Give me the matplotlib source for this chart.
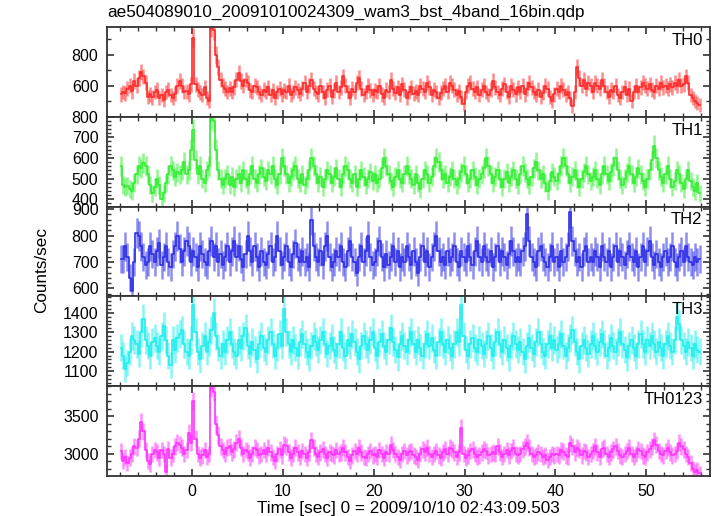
import numpy as np
import matplotlib
matplotlib.use('Agg')
import matplotlib.pyplot as plt
from matplotlib.ticker import MultipleLocator

plt.rcParams['font.family'] = ['Liberation Sans', 'DejaVu Sans']

title = 'ae504089010_20091010024309_wam3_bst_4band_16bin.qdp'
xlabel = 'Time [sec] 0 = 2009/10/10 02:43:09.503'
ylabel = 'Counts/sec'

# bins of 0.25 s (16 x 1/64 s), first bin centre at -7.875 s
bin_sec = 0.25
t_first = -7.875

th0 = [
    545, 560, 552, 580, 600, 565, 630, 600, 650, 690, 660, 620, 530, 545, 525, 560,
    575, 520, 540, 510, 560, 575, 540, 520, 550, 600, 630, 600, 560, 565, 545, 610,
    910, 610, 575, 555, 540, 590, 520, 505, 975, 960, 800, 720, 640, 600, 580, 560,
    585, 560, 590, 640, 680, 630, 600, 640, 620, 570, 560, 600, 590, 560, 540, 575,
    560, 590, 540, 570, 520, 560, 580, 545, 570, 560, 600, 540, 560, 590, 570, 550,
    580, 620, 560, 600, 640, 580, 560, 545, 600, 560, 520, 575, 600, 530, 570, 620,
    560, 590, 660, 600, 560, 520, 580, 560, 620, 650, 580, 540, 560, 600, 570, 540,
    570, 560, 600, 545, 520, 575, 560, 640, 580, 555, 590, 540, 610, 575, 520, 560,
    590, 550, 565, 540, 600, 580, 560, 620, 590, 540, 575, 560, 520, 555, 580, 600,
    560, 620, 600, 575, 540, 565, 530, 480, 560, 600, 620, 580, 560, 590, 540, 575,
    600, 560, 540, 575, 630, 590, 560, 540, 580, 610, 560, 530, 600, 575, 545, 590,
    560, 600, 545, 580, 620, 590, 560, 540, 575, 530, 555, 600, 580, 530, 500, 545,
    580, 560, 600, 575, 540, 560, 520, 470, 560, 720, 650, 600, 640, 580, 620, 600,
    560, 620, 600, 580, 640, 600, 560, 530, 575, 560, 600, 540, 520, 560, 590, 540,
    580, 500, 560, 600, 560, 590, 620, 600, 580, 610, 575, 560, 600, 580, 620, 590,
    600, 580, 610, 590, 620, 600, 640, 600, 610, 660, 620, 540, 520, 500, 490, 475,
]

th1 = [
    560, 470, 460, 465, 450, 440, 480, 520, 560, 550, 575, 560, 520, 470, 430, 460,
    500, 470, 400, 430, 480, 520, 560, 540, 510, 530, 520, 540, 580, 520, 540, 640,
    735, 590, 520, 560, 500, 480, 540, 560, 790, 780, 640, 540, 500, 470, 500, 520,
    470, 510, 460, 500, 520, 480, 540, 500, 470, 520, 560, 500, 480, 520, 550, 510,
    490, 540, 520, 560, 500, 470, 520, 600, 560, 520, 480, 510, 540, 560, 500, 480,
    520, 470, 500, 540, 600, 560, 520, 480, 510, 460, 500, 540, 520, 480, 510, 550,
    500, 460, 520, 560, 540, 500, 480, 520, 460, 500, 540, 510, 470, 500, 530, 490,
    520, 480, 500, 550, 600, 560, 520, 490, 460, 510, 540, 500, 480, 520, 560, 520,
    500, 470, 520, 480, 450, 500, 540, 520, 480, 510, 560, 600, 580, 540, 500, 520,
    480, 510, 540, 500, 470, 500, 530, 560, 520, 480, 500, 540, 510, 470, 500, 520,
    550, 600, 560, 520, 480, 510, 540, 500, 460, 500, 530, 480, 510, 540, 500, 470,
    520, 560, 530, 500, 470, 510, 550, 580, 540, 500, 520, 480, 440, 490, 530, 510,
    490, 520, 560, 600, 560, 520, 480, 510, 540, 500, 460, 500, 530, 560, 520, 490,
    510, 540, 500, 470, 520, 560, 520, 490, 530, 560, 600, 540, 500, 470, 500, 530,
    560, 520, 480, 510, 550, 520, 490, 460, 500, 540, 590, 660, 600, 540, 510, 480,
    520, 560, 500, 460, 490, 540, 520, 480, 450, 500, 540, 490, 460, 440, 480, 430,
]

th2 = [
    710, 710, 760, 720, 640, 590, 700, 810, 800, 760, 720, 690, 700, 760, 730, 700,
    740, 770, 690, 720, 760, 700, 680, 730, 760, 800, 750, 700, 740, 780, 760, 700,
    740, 720, 680, 760, 730, 700, 690, 740, 780, 720, 760, 700, 730, 690, 720, 760,
    700, 740, 780, 720, 760, 710, 680, 730, 800, 740, 700, 760, 720, 680, 740, 700,
    690, 730, 760, 700, 720, 800, 740, 690, 720, 760, 700, 680, 730, 770, 720, 700,
    740, 700, 720, 680, 860, 760, 720, 700, 740, 690, 760, 800, 720, 680, 700, 740,
    720, 760, 700, 680, 740, 780, 720, 700, 660, 720, 760, 700, 740, 800, 720, 690,
    700, 740, 780, 720, 680, 730, 690, 720, 760, 700, 740, 680, 720, 700, 760, 720,
    690, 740, 700, 660, 720, 760, 700, 740, 680, 720, 760, 800, 740, 700, 720, 690,
    740, 700, 720, 760, 700, 680, 740, 720, 700, 760, 720, 690, 740, 780, 720, 700,
    760, 720, 700, 740, 680, 720, 760, 700, 740, 720, 690, 730, 780, 740, 700, 720,
    700, 740, 760, 880, 780, 720, 700, 680, 740, 760, 720, 700, 680, 720, 760, 700,
    720, 680, 740, 700, 720, 760, 890, 780, 740, 700, 720, 680, 740, 760, 700, 720,
    700, 740, 720, 680, 760, 720, 700, 740, 680, 720, 760, 700, 740, 720, 690, 730,
    760, 720, 700, 740, 680, 720, 760, 700, 740, 780, 720, 690, 730, 700, 680, 720,
    740, 700, 720, 760, 700, 680, 720, 740, 700, 760, 720, 700, 690, 720, 700, 710,
]

th3 = [
    1220, 1180, 1110, 1140, 1200, 1280, 1260, 1240, 1190, 1300, 1370, 1260, 1230, 1180, 1250, 1270,
    1230, 1200, 1280, 1330, 1260, 1180, 1130, 1260, 1210, 1270, 1290, 1310, 1240, 1200, 1180, 1260,
    1440, 1300, 1200, 1160, 1230, 1280, 1200, 1250, 1310, 1400, 1280, 1220, 1180, 1240, 1200, 1260,
    1300, 1240, 1200, 1180, 1260, 1220, 1280, 1320, 1230, 1190, 1250, 1210, 1160, 1240, 1280, 1220,
    1200, 1260, 1300, 1240, 1180, 1220, 1290, 1230, 1420, 1300, 1240, 1200, 1260, 1220, 1180, 1250,
    1290, 1240, 1200, 1170, 1230, 1280, 1250, 1210, 1260, 1300, 1240, 1190, 1230, 1270, 1210, 1180,
    1240, 1300, 1220, 1180, 1260, 1230, 1290, 1250, 1200, 1160, 1230, 1280, 1240, 1210, 1260, 1300,
    1220, 1180, 1250, 1290, 1230, 1200, 1260, 1320, 1250, 1210, 1170, 1240, 1280, 1230, 1200, 1260,
    1300, 1240, 1200, 1260, 1220, 1180, 1240, 1290, 1230, 1270, 1210, 1180, 1250, 1300, 1240, 1200,
    1260, 1220, 1180, 1240, 1300, 1250, 1440, 1280, 1210, 1180, 1240, 1270, 1220, 1200, 1260, 1230,
    1190, 1240, 1280, 1220, 1180, 1250, 1300, 1240, 1200, 1260, 1220, 1170, 1230, 1280, 1240, 1210,
    1250, 1200, 1160, 1230, 1270, 1220, 1190, 1250, 1300, 1240, 1200, 1180, 1240, 1280, 1220, 1260,
    1210, 1240, 1290, 1230, 1180, 1220, 1270, 1310, 1250, 1200, 1160, 1230, 1260, 1220, 1190, 1240,
    1280, 1230, 1200, 1250, 1290, 1240, 1180, 1220, 1270, 1230, 1200, 1250, 1300, 1240, 1210, 1170,
    1230, 1260, 1220, 1180, 1240, 1290, 1240, 1200, 1260, 1230, 1280, 1240, 1200, 1250, 1220, 1180,
    1240, 1280, 1230, 1200, 1260, 1380, 1340, 1260, 1230, 1200, 1250, 1220, 1180, 1240, 1210, 1200,
]

th0123 = [
    3040, 2900, 2960, 2880, 2950, 3000, 3100, 3080, 3200, 3420, 3300, 3050, 2900, 2860, 3000, 3050,
    3020, 2950, 3050, 3000, 2760, 3060, 2950, 3000, 3100, 3150, 3120, 3080, 3000, 3050, 3280, 3150,
    3700, 3200, 3000, 2950, 2980, 3050, 2960, 3000, 3880, 3820, 3400, 3250, 3100, 3050, 3000, 3080,
    3100, 3020, 3060, 3150, 3200, 3080, 3000, 3050, 3020, 2950, 3000, 3080, 3050, 2980, 3000, 3050,
    3000, 3080, 3020, 2960, 2900, 3000, 3060, 2980, 3120, 3100, 3020, 2950, 3000, 3080, 3020, 2960,
    3040, 3000, 2950, 3020, 3180, 3080, 3000, 2960, 3020, 3060, 3000, 2950, 3020, 3000, 2980, 3050,
    3000, 3020, 3080, 3020, 2960, 2900, 2980, 3040, 3000, 3080, 3020, 2960, 2940, 3000, 3040, 2980,
    3000, 2960, 3050, 3000, 2950, 3020, 3000, 3120, 3050, 3000, 2960, 2920, 3000, 3040, 2980, 3020,
    3040, 2980, 2960, 2920, 3000, 3060, 3020, 3080, 3000, 2960, 3000, 3040, 2980, 2950, 3020, 3060,
    3000, 3080, 3060, 3020, 2960, 3020, 3350, 3000, 2950, 2980, 3040, 3060, 3000, 2960, 2980, 3020,
    3060, 3040, 2980, 3000, 3020, 3000, 3100, 3020, 2960, 3000, 3050, 2980, 3040, 3080, 3000, 2980,
    3000, 3060, 3100, 3150, 3080, 3000, 2960, 2980, 3020, 3000, 2960, 2980, 2920, 2960, 3000, 2980,
    3000, 2980, 3050, 3030, 2980, 2960, 3140, 3100, 3020, 3080, 3050, 2980, 3040, 3020, 2960, 3000,
    3040, 3100, 3020, 2960, 3060, 3080, 3000, 2960, 3020, 3060, 3100, 3040, 2980, 2960, 3000, 3040,
    3080, 3000, 2960, 3000, 3060, 3040, 2980, 2960, 3020, 3060, 3100, 3180, 3120, 3040, 3000, 2980,
    3040, 3080, 3020, 2980, 3000, 3040, 3150, 3100, 3060, 3000, 2960, 2880, 2800, 2760, 2780, 2740,
]

names = ['TH0', 'TH1', 'TH2', 'TH3', 'TH0123']
series = [th0, th1, th2, th3, th0123]
colors = ['#ff2a2a', '#33ee33', '#2e2ee8', '#22eeee', '#ff33ff']
ylims = [(401, 980), (365, 800), (570, 910), (1022, 1485), (2705, 3900)]
major = [200, 100, 100, 100, 500]
minor = [100, 20, 20, 20, 100]

fig, axes = plt.subplots(5, 1, sharex=True, figsize=(7.17, 5.16), dpi=100)
fig.subplots_adjust(left=0.149, right=0.990, top=0.948, bottom=0.0775, hspace=0)

for ax, name, vals, col, yl, mj, mn in zip(axes, names, series, colors, ylims, major, minor):
    v = np.array(vals, dtype=float)
    t = t_first + bin_sec * np.arange(len(v))
    err = np.sqrt(v / bin_sec)
    ax.errorbar(t, v, yerr=err, fmt='none', ecolor=col, elinewidth=1.8, alpha=0.55)
    ax.step(t, v, where='mid', color=col, lw=1.2)
    ax.set_ylim(yl)
    ax.yaxis.set_major_locator(MultipleLocator(mj))
    ax.yaxis.set_minor_locator(MultipleLocator(mn))
    ax.xaxis.set_major_locator(MultipleLocator(10))
    ax.xaxis.set_minor_locator(MultipleLocator(2))
    ax.tick_params(which='both', direction='in', top=True, right=True, labelsize=11.5, pad=6, color='#333333')
    ax.tick_params(which='major', length=5, width=1.2)
    ax.tick_params(which='minor', length=3, width=1.0)
    for s in ax.spines.values():
        s.set_linewidth(1.3)
        s.set_color('#333333')
    ax.text(0.988, 0.935, name, transform=ax.transAxes, ha='right', va='top', fontsize=12)

axes[-1].set_xlim(-9.4, 57)
axes[-1].set_xlabel(xlabel, fontsize=12.3, labelpad=1)
fig.text(0.058, 1 - 270 / 516, ylabel, rotation=90, ha='center', va='center', fontsize=12.3)
fig.text(0.149, 0.976, title, ha='left', va='center', fontsize=12.3)

fig.savefig('out.png', dpi=100)
